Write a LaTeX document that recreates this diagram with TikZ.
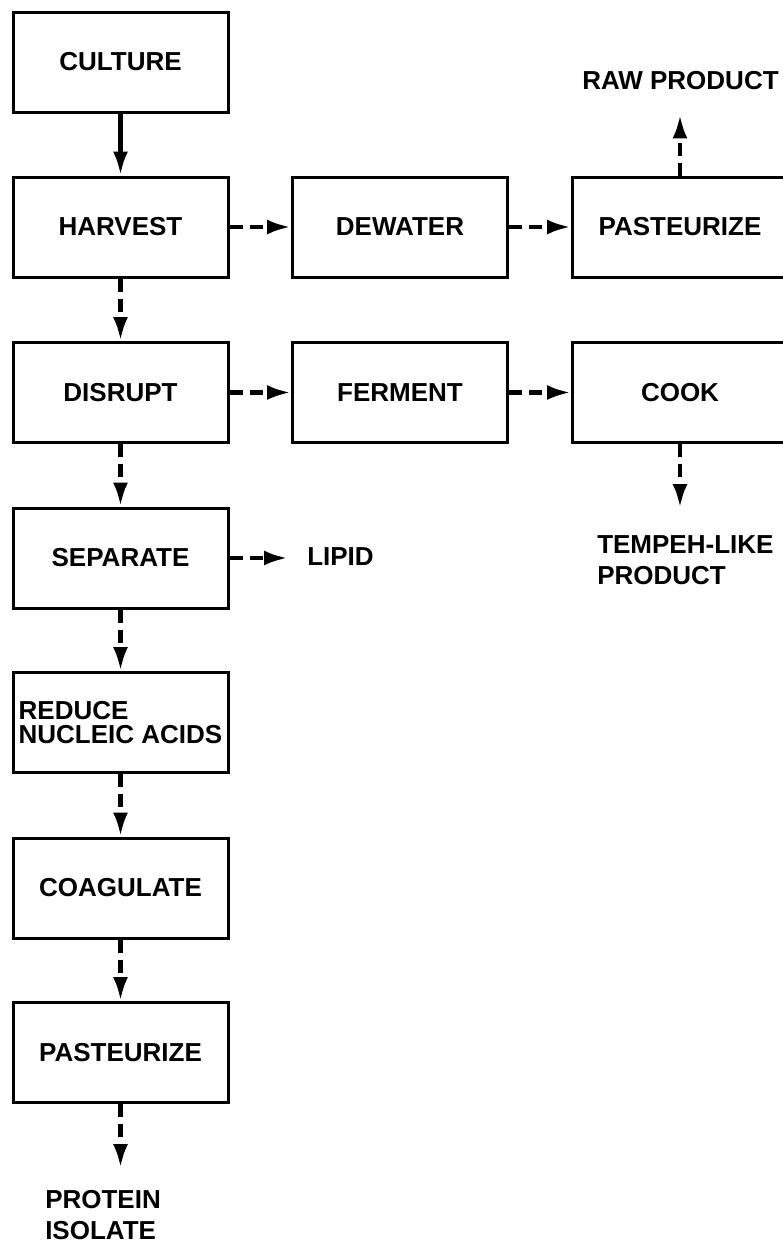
\documentclass[tikz,border=0pt]{standalone}
\usepackage{fontspec}
\setmainfont{Liberation Sans}
\usetikzlibrary{arrows.meta}

\begin{document}
\begin{tikzpicture}[x=1pt,y=1pt,line width=4.5pt,
    solidflow/.style={-{Latex[length=24pt,width=15pt]}},
    flowdash/.style={-{Latex[length=24pt,width=15pt]},dash pattern=on 13pt off 7pt}]
            \useasboundingbox (0,0) rectangle (783,-1245);
            \begin{scope}[every node/.style={draw=black,line width=3pt,minimum width=215pt,minimum height=100pt,inner sep=0pt,font=\bfseries\fontsize{26}{24}\selectfont}]
                \node (culture) at (120.5,-62) {CULTURE};
                \node (harvest) at (120.5,-227) {HARVEST};
                \node (disrupt) at (120.5,-392.5) {DISRUPT};
                \node (separate) at (120.5,-558) {SEPARATE};
                \node[align=left] (reduce) at (120.5,-722.5) {REDUCE\\NUCLEIC ACIDS};
                \node (coagulate) at (120.5,-888) {COAGULATE};
                \node (pasteurize2) at (120.5,-1052.5) {PASTEURIZE};
                \node (dewater) at (400,-227) {DEWATER};
                \node (pasteurize1) at (680,-227) {PASTEURIZE};
                \node (ferment) at (400,-392.5) {FERMENT};
                \node (cook) at (680,-392.5) {COOK};
            \end{scope}
            \begin{scope}[every node/.style={inner sep=0pt,align=left,font=\bfseries\fontsize{26}{31}\selectfont}]
                \node[anchor=west] (raw) at (580,-81) {RAW PRODUCT};
                \node[anchor=north west] (tempeh) at (595,-533) {TEMPEH-LIKE\\PRODUCT};
                \node[anchor=west] (lipid) at (305,-557) {LIPID};
                \node[anchor=north west] (protein) at (43,-1188) {PROTEIN\\ISOLATE};
            \end{scope}
            \draw (culture) edge [solidflow] (harvest);
            \draw (harvest) edge [flowdash] (dewater);
            \draw (dewater) edge [flowdash] (pasteurize1);
            \draw (pasteurize1.north) edge [flowdash, shorten >=22pt] (pasteurize1.north |- raw.south);
            \draw (harvest) edge [flowdash] (disrupt);
            \draw (disrupt) edge [flowdash] (ferment);
            \draw (ferment) edge [flowdash] (cook);
            \draw (cook.south) edge [flowdash, shorten >=25pt] (cook.south |- tempeh.north);
            \draw (disrupt) edge [flowdash] (separate);
            \draw (separate.east) edge [flowdash, shorten >=17pt] (separate.east -| lipid.west);
            \draw (separate) edge [flowdash] (reduce);
            \draw (reduce) edge [flowdash] (coagulate);
            \draw (coagulate) edge [flowdash] (pasteurize2);
            \draw (pasteurize2.south) edge [flowdash, shorten >=20pt] (pasteurize2.south |- protein.north);
        \end{tikzpicture}
\end{document}
